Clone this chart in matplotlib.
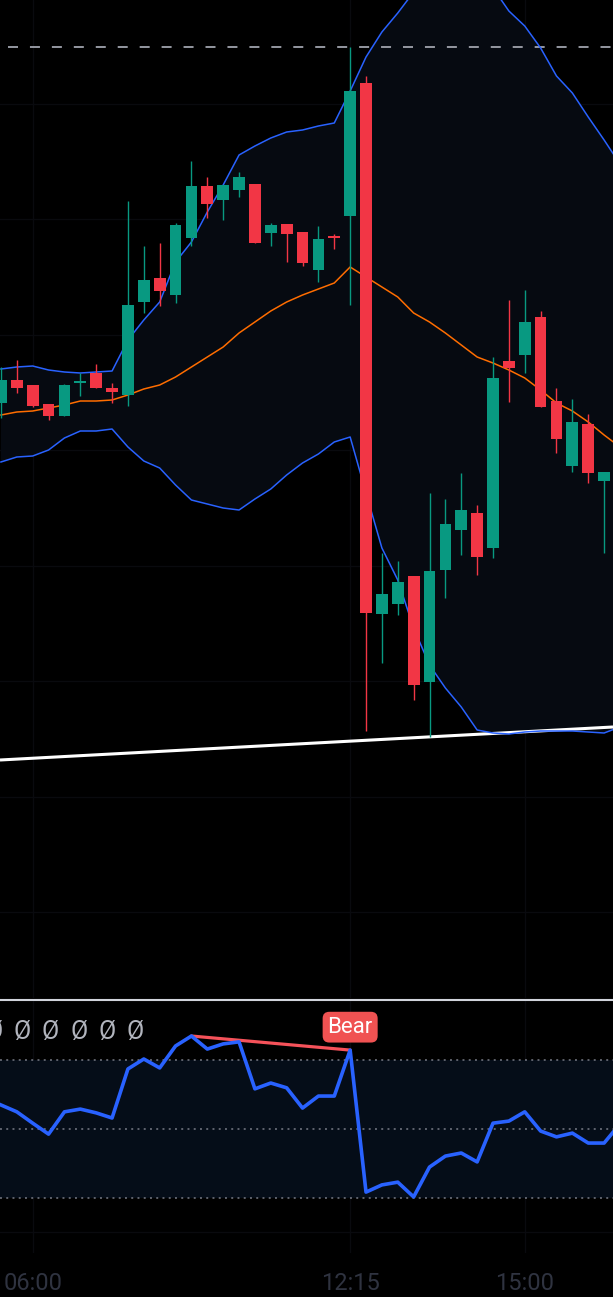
import numpy as np
import matplotlib
matplotlib.use("Agg")
import matplotlib.pyplot as plt

plt.rcParams['lines.scale_dashes'] = False

# candles (open, high, low, close) - 15 min bars
opens = [59.7, 62.0, 61.5, 59.6, 58.4, 61.75, 62.7, 61.2, 60.5, 69.8,
         72.2, 70.5, 76.2, 81.4, 80.0, 81.0, 81.6, 76.7, 77.6, 76.8,
         73.0, 76.4, 78.4, 91.7, 38.6, 39.6, 42.4, 31.8, 43.0, 47.0,
         48.7, 45.2, 63.9, 64.5, 68.3, 59.9, 53.4, 57.6, 51.9]
highs = [63.3, 64.0, 61.5, 59.6, 61.6, 62.7, 63.6, 61.7, 79.9, 75.4,
         75.7, 77.7, 83.9, 82.3, 81.5, 82.8, 81.6, 77.7, 77.6, 76.8,
         77.4, 76.6, 95.3, 92.4, 44.7, 43.9, 42.4, 50.7, 50.1, 52.7,
         49.5, 64.3, 70.0, 71.0, 68.9, 61.2, 60.1, 58.6, 52.8]
lows = [58.2, 60.7, 59.3, 58.0, 58.4, 60.4, 61.2, 59.7, 59.4, 68.7,
        69.4, 69.7, 75.4, 78.2, 78.0, 80.3, 75.7, 75.4, 73.8, 73.4,
        71.8, 75.1, 69.5, 26.9, 33.7, 38.5, 30.0, 26.3, 40.2, 44.5,
        42.5, 44.2, 59.8, 62.7, 59.3, 54.7, 52.8, 51.7, 44.7]
closes = [62.0, 61.2, 59.4, 58.4, 61.5, 61.85, 61.2, 60.8, 69.5, 72.0,
          70.9, 77.5, 81.4, 79.6, 81.5, 82.3, 75.7, 77.5, 76.6, 73.7,
          76.1, 76.2, 90.9, 38.7, 40.6, 41.8, 31.5, 42.9, 47.6, 49.0,
          44.3, 62.2, 63.2, 67.8, 59.3, 56.1, 57.8, 52.7, 52.8]

# bollinger bands (one more bar than the visible candles, runs off the right edge)
bb_upper = [63.1, 63.3, 63.4, 63.0, 62.8, 62.7, 62.8, 62.9, 66.0, 68.0,
            69.8, 73.8, 75.8, 78.8, 81.5, 84.5, 85.4, 86.2, 86.8, 87.0,
            87.4, 87.7, 90.9, 94.3, 96.8, 98.7, 100.8, 102.5, 103.5, 103.8,
            103.2, 101.2, 98.9, 97.4, 95.2, 92.4, 90.7, 88.3, 86.0, 83.6]
bb_mid = [58.5, 58.8, 58.9, 59.2, 59.5, 59.9, 59.9, 60.0, 60.5, 61.1,
          61.5, 62.3, 63.3, 64.3, 65.3, 66.7, 67.8, 68.9, 69.8, 70.5,
          71.1, 71.7, 73.3, 72.3, 71.3, 70.3, 68.7, 67.8, 66.7, 65.5,
          64.3, 63.7, 63.0, 62.2, 61.0, 59.7, 58.9, 57.8, 56.5, 55.3]
bb_lower = [53.8, 54.3, 54.4, 55.0, 56.2, 56.9, 56.9, 57.1, 55.3, 53.9,
            53.2, 51.5, 50.0, 49.6, 49.2, 49.0, 50.1, 51.1, 52.5, 53.7,
            54.6, 55.8, 56.3, 50.7, 45.2, 42.0, 37.2, 33.5, 31.2, 29.3,
            27.0, 26.7, 26.6, 26.8, 26.9, 26.9, 26.9, 26.8, 26.7, 27.3]

rsi = [57.0, 55.0, 51.7, 48.5, 55.0, 55.8, 54.7, 53.2, 67.5, 70.4,
       67.8, 74.2, 77.1, 73.3, 74.8, 75.4, 61.7, 63.4, 62.0, 56.1,
       59.6, 59.6, 73.0, 31.6, 33.7, 34.5, 30.2, 38.9, 42.1, 43.0,
       40.4, 51.7, 52.3, 55.0, 49.4, 47.7, 48.8, 45.9, 45.9, 51.5]

trend_x = [-0.06, 38.56]
trend_y = [24.0, 27.3]
level = 95.3
div_from, div_to = 12, 22
time_ticks = [2, 22, 33]
time_labels = ["06:00", "12:15", "15:00"]

green = '#089981'
red = '#f23645'
grid_c = '#090a0e'
x = np.arange(len(opens))
xb = np.arange(len(bb_mid))

fig = plt.figure(figsize=(6.13, 12.97), dpi=100, facecolor='black')
ax = fig.add_axes([0, 1 - 998 / 1297, 1, 998 / 1297])
ax2 = fig.add_axes([0, 1 - 1253 / 1297, 1, 253 / 1297])

for a in (ax, ax2):
    a.set_facecolor('black')
    for s in a.spines.values():
        s.set_visible(False)
    a.set_xlim(-0.06, 38.56)
    a.set_xticks(time_ticks)
    a.tick_params(length=0)
    a.grid(True, color=grid_c, linewidth=1.0)
    a.set_axisbelow(True)

# main pane
ax.set_ylim(0.2, 100)
ax.set_yticks(np.arange(8.8, 100, 11.55))
ax.set_xticklabels([])
ax.set_yticklabels([])

ax.fill_between(xb, bb_lower, bb_upper, color='#060a11', zorder=1, linewidth=0)
ax.plot(trend_x, trend_y, color='white', linewidth=2.2, zorder=2, solid_capstyle='butt')
ax.plot(xb, bb_upper, color='#2962ff', linewidth=1.1, zorder=3)
ax.plot(xb, bb_lower, color='#2962ff', linewidth=1.1, zorder=3)
ax.plot(xb, bb_mid, color='#ff6d00', linewidth=1.1, zorder=3)
ax.axhline(level, xmin=8 / 613, color='#9598a1', linewidth=1.4,
           dashes=(7.2, 8.6), zorder=2)

o = np.array(opens)
c = np.array(closes)
cols = [green if cc >= oo else red for oo, cc in zip(o, c)]
ax.vlines(x, lows, highs, colors=cols, linewidth=1.0, zorder=4)
body_h = np.maximum(np.abs(c - o), 0.15)
ax.bar(x, body_h, bottom=np.minimum(o, c), width=0.74, color=cols, zorder=5, linewidth=0)

# rsi pane
ax2.set_ylim(13.85, 87.6)
ax2.set_yticks([20])
ax2.set_yticklabels([])
ax2.spines['top'].set_visible(True)
ax2.spines['top'].set_color('#d1d4dc')
ax2.spines['top'].set_linewidth(1.5)
ax2.axhspan(30, 70, color='#050d18', zorder=1, linewidth=0)
for lv in (70, 50, 30):
    ax2.axhline(lv, color='#787b86', linewidth=1.1, dashes=(1.4, 3.1), zorder=2)
ax2.plot(xb, rsi, color='#2962ff', linewidth=2.6, zorder=4)
ax2.plot([div_from, div_to], [rsi[div_from], rsi[div_to]], color='#f5525a',
         linewidth=2.3, zorder=3, solid_capstyle='round')
ax2.annotate('Bear', xy=(div_to, rsi[div_to]), xytext=(0, 16.5), textcoords='offset points',
             ha='center', va='center', color='white', fontsize=16, family='Roboto',
             bbox=dict(boxstyle='round,pad=0.22,rounding_size=0.3', fc='#f05252', ec='none'),
             zorder=6)
for k in range(6):
    ax2.text((-6 + 28.3 * k) / 613, 0.872, 'Ø', transform=ax2.transAxes,
             ha='center', va='center', color='#b2b5be', fontsize=18, family='Roboto')

ax2.set_xticklabels(time_labels, color='#2f3340', fontsize=17, family='Roboto')
ax2.tick_params(axis='x', pad=14)

fig.savefig('out.png', dpi=100, facecolor='black')
